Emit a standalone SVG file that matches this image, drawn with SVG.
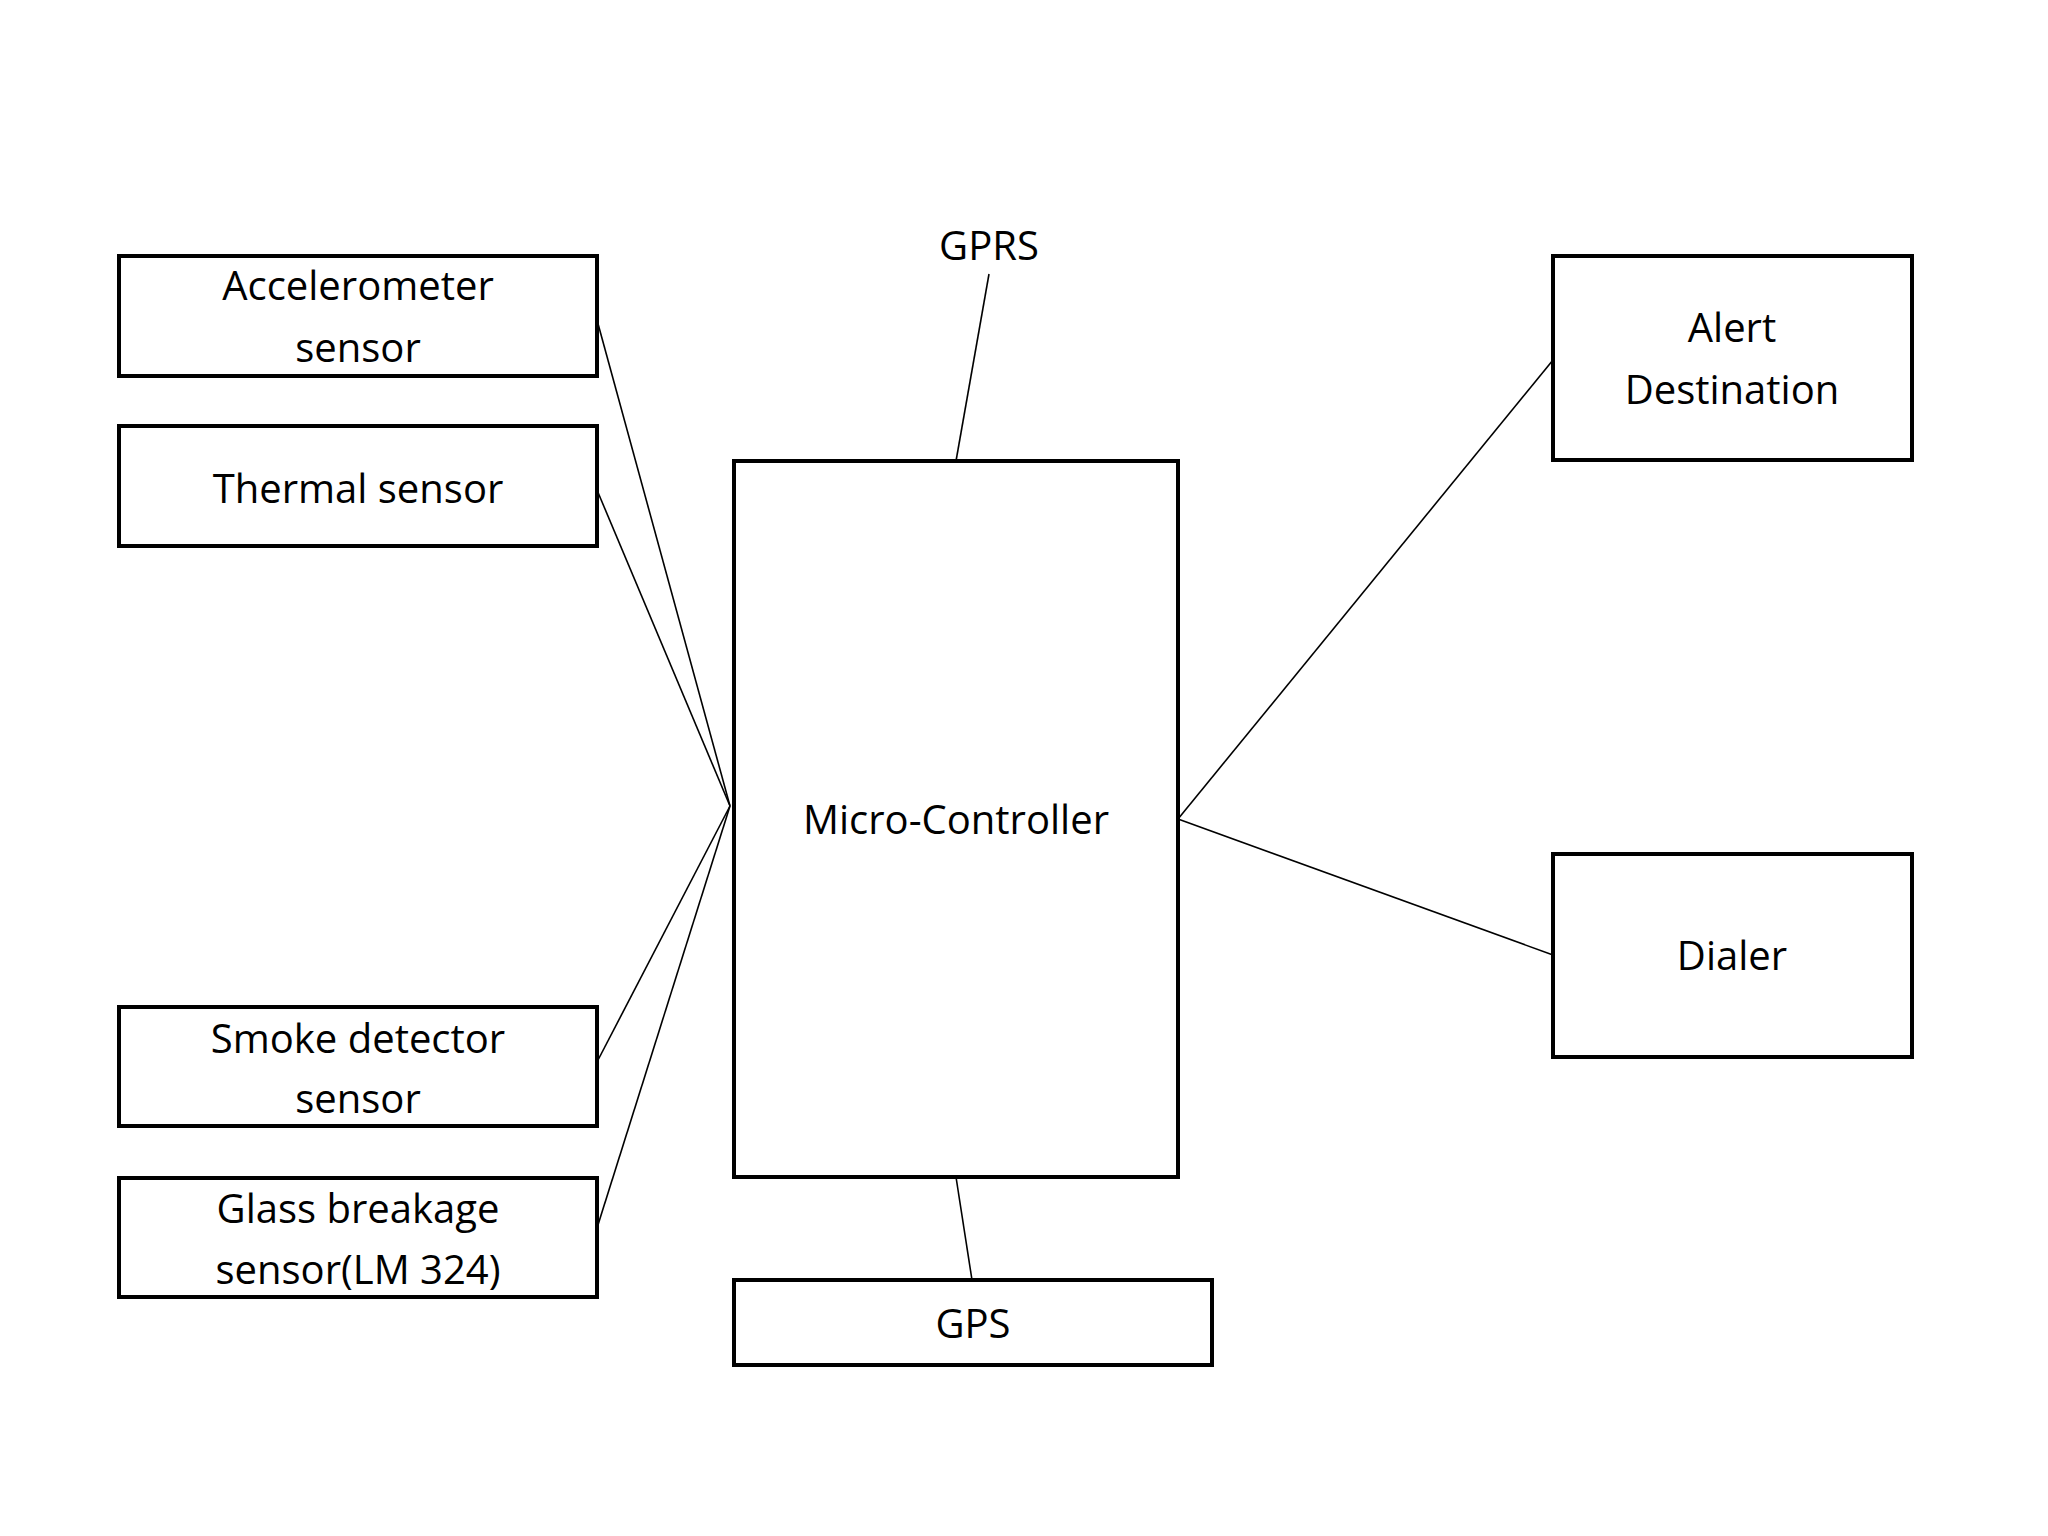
<svg xmlns="http://www.w3.org/2000/svg" width="2048" height="1536" viewBox="0 0 2048 1536">
<style>
rect{fill:#fff;stroke:#000;stroke-width:4}
line{stroke:#000;stroke-width:1.6}
text{font-family:"Open Sans","DejaVu Sans",sans-serif;font-size:40px;text-anchor:middle;fill:#000}
</style>
<rect x="0" y="0" width="2048" height="1536" style="stroke:none"/>
<g id="connectors">
<line x1="989" y1="274" x2="956" y2="461"/>
<line x1="597" y1="320" x2="730" y2="806"/>
<line x1="597" y1="490" x2="730" y2="806"/>
<line x1="597" y1="1062" x2="730" y2="806"/>
<line x1="597" y1="1228" x2="730" y2="806"/>
<line x1="1178" y1="819" x2="1553" y2="360"/>
<line x1="1178" y1="819" x2="1553" y2="955"/>
<line x1="956" y1="1177" x2="972" y2="1280"/>
</g>
<g id="accel"><rect x="119" y="256" width="478" height="120"/><text x="358" y="300">Accelerometer</text><text x="358" y="362">sensor</text></g>
<g id="thermal"><rect x="119" y="426" width="478" height="120"/><text x="358" y="503">Thermal sensor</text></g>
<g id="smoke"><rect x="119" y="1007" width="478" height="119"/><text x="358" y="1053">Smoke detector</text><text x="358" y="1113">sensor</text></g>
<g id="glass"><rect x="119" y="1178" width="478" height="119"/><text x="358" y="1223">Glass breakage</text><text x="358" y="1284">sensor(LM 324)</text></g>
<g id="mc"><rect x="734" y="461" width="444" height="716"/><text x="956" y="834">Micro-Controller</text></g>
<g id="gps"><rect x="734" y="1280" width="478" height="85"/><text x="973" y="1338">GPS</text></g>
<g id="gprs"><text x="989" y="260">GPRS</text></g>
<g id="alert"><rect x="1553" y="256" width="359" height="204"/><text x="1732" y="342">Alert</text><text x="1732" y="404">Destination</text></g>
<g id="dialer"><rect x="1553" y="854" width="359" height="203"/><text x="1732" y="970">Dialer</text></g>
</svg>
